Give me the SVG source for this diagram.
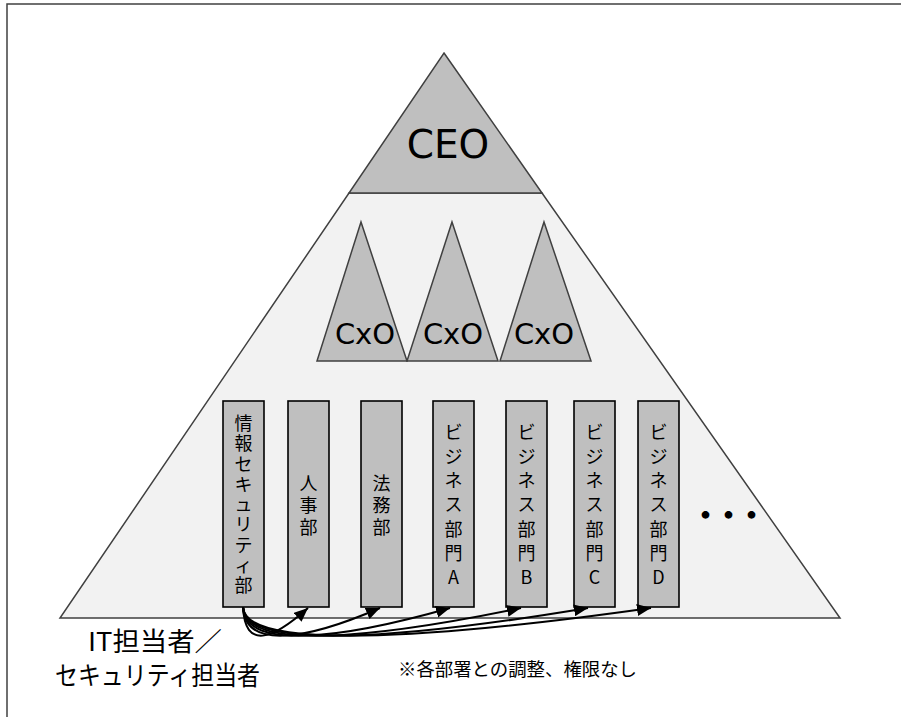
<svg xmlns="http://www.w3.org/2000/svg" width="901" height="717" viewBox="0 0 901 717">
<defs>
<style>
.frame{fill:#ffffff;stroke:#404040;stroke-width:1.5}
.tri{fill:#bfbfbf;stroke:#404040;stroke-width:1.5;stroke-linejoin:miter}
.trap{fill:#f2f2f2;stroke:#404040;stroke-width:1.5}
.dept{fill:#bfbfbf;stroke:#000000;stroke-width:1.6}
.lat{font-family:"DejaVu Sans","Liberation Sans",sans-serif;fill:#000000;text-anchor:middle}
.jp{font-family:"Noto Sans CJK JP","Noto Sans",sans-serif;fill:#000000;text-anchor:middle}
.v{font-size:18px}
.conn{fill:none;stroke:#000000;stroke-width:2}
</style>
<marker id="ah" markerUnits="userSpaceOnUse" markerWidth="14" markerHeight="12" refX="14" refY="6" orient="auto">
<path d="M0,0 L14,6 L0,12 z" fill="#000000"/>
</marker>
</defs>
<rect class="frame" x="7" y="4" width="1000" height="800"/>
<g id="pyramid">
<polygon class="trap" points="349,193 542,193 840,618 60,618"/>
</g>
<g id="ceo">
<polygon class="tri" points="444,53 542,193 349,193"/>
<text class="lat" x="448" y="158" font-size="39">CEO</text>
</g>
<g id="cxo1">
<polygon class="tri" points="361,222 407,361 317,361"/>
<text class="lat" x="365" y="344" font-size="29">CxO</text>
</g>
<g id="cxo2">
<polygon class="tri" points="452,222 498,361 407,361"/>
<text class="lat" x="453" y="344" font-size="29">CxO</text>
</g>
<g id="cxo3">
<polygon class="tri" points="544,222 591,361 500,361"/>
<text class="lat" x="544" y="344" font-size="29">CxO</text>
</g>
<g id="infosec">
<rect class="dept" x="223" y="401" width="41" height="206"/>
<text class="jp v"><tspan x="243.5" y="430">情</tspan><tspan x="243.5" y="450">報</tspan><tspan x="243.5" y="471">セ</tspan><tspan x="243.5" y="491">キ</tspan><tspan x="243.5" y="511">ュ</tspan><tspan x="243.5" y="531">リ</tspan><tspan x="243.5" y="552">テ</tspan><tspan x="243.5" y="572">ィ</tspan><tspan x="243.5" y="592">部</tspan></text>
</g>
<g id="hr">
<rect class="dept" x="288" y="401" width="41" height="206"/>
<text class="jp v"><tspan x="308.5" y="490">人</tspan><tspan x="308.5" y="512">事</tspan><tspan x="308.5" y="534">部</tspan></text>
</g>
<g id="legal">
<rect class="dept" x="361" y="401" width="41" height="206"/>
<text class="jp v"><tspan x="381.5" y="490">法</tspan><tspan x="381.5" y="512">務</tspan><tspan x="381.5" y="534">部</tspan></text>
</g>
<g id="bizA">
<rect class="dept" x="433" y="401" width="41" height="206"/>
<text class="jp v"><tspan x="453.5" y="439">ビ</tspan><tspan x="453.5" y="463">ジ</tspan><tspan x="453.5" y="487">ネ</tspan><tspan x="453.5" y="511">ス</tspan><tspan x="453.5" y="536">部</tspan><tspan x="453.5" y="560">門</tspan><tspan x="453.5" y="584">A</tspan></text>
</g>
<g id="bizB">
<rect class="dept" x="506" y="401" width="41" height="206"/>
<text class="jp v"><tspan x="526.5" y="439">ビ</tspan><tspan x="526.5" y="463">ジ</tspan><tspan x="526.5" y="487">ネ</tspan><tspan x="526.5" y="511">ス</tspan><tspan x="526.5" y="536">部</tspan><tspan x="526.5" y="560">門</tspan><tspan x="526.5" y="584">B</tspan></text>
</g>
<g id="bizC">
<rect class="dept" x="574" y="401" width="41" height="206"/>
<text class="jp v"><tspan x="594.5" y="439">ビ</tspan><tspan x="594.5" y="463">ジ</tspan><tspan x="594.5" y="487">ネ</tspan><tspan x="594.5" y="511">ス</tspan><tspan x="594.5" y="536">部</tspan><tspan x="594.5" y="560">門</tspan><tspan x="594.5" y="584">C</tspan></text>
</g>
<g id="bizD">
<rect class="dept" x="638" y="401" width="41" height="206"/>
<text class="jp v"><tspan x="658.5" y="439">ビ</tspan><tspan x="658.5" y="463">ジ</tspan><tspan x="658.5" y="487">ネ</tspan><tspan x="658.5" y="511">ス</tspan><tspan x="658.5" y="536">部</tspan><tspan x="658.5" y="560">門</tspan><tspan x="658.5" y="584">D</tspan></text>
</g>
<g id="more">
<text class="jp" x="725" y="526" font-size="30" font-weight="bold" letter-spacing="-7">・・・</text>
</g>
<g id="connectors">
<path class="conn" marker-end="url(#ah)" d="M243,607 C245,650 272,640 308,608"/>
<path class="conn" marker-end="url(#ah)" d="M243,607 C245,650 306,640 380,608"/>
<path class="conn" marker-end="url(#ah)" d="M243,607 C245,650 338,640 450,608"/>
<path class="conn" marker-end="url(#ah)" d="M243,607 C245,650 367,640 521,608"/>
<path class="conn" marker-end="url(#ah)" d="M243,607 C245,650 396,640 588,608"/>
<path class="conn" marker-end="url(#ah)" d="M243,607 C245,650 424,640 651,608"/>
</g>
<g id="it-staff">
<text class="jp" x="155" y="651" font-size="26" textLength="134" lengthAdjust="spacingAndGlyphs">IT担当者／</text>
<text class="jp" x="157.5" y="685" font-size="26" textLength="205" lengthAdjust="spacingAndGlyphs">セキュリティ担当者</text>
</g>
<g id="note">
<text class="jp" x="517.5" y="676" font-size="18" textLength="239" lengthAdjust="spacingAndGlyphs">※各部署との調整、権限なし</text>
</g>
</svg>
